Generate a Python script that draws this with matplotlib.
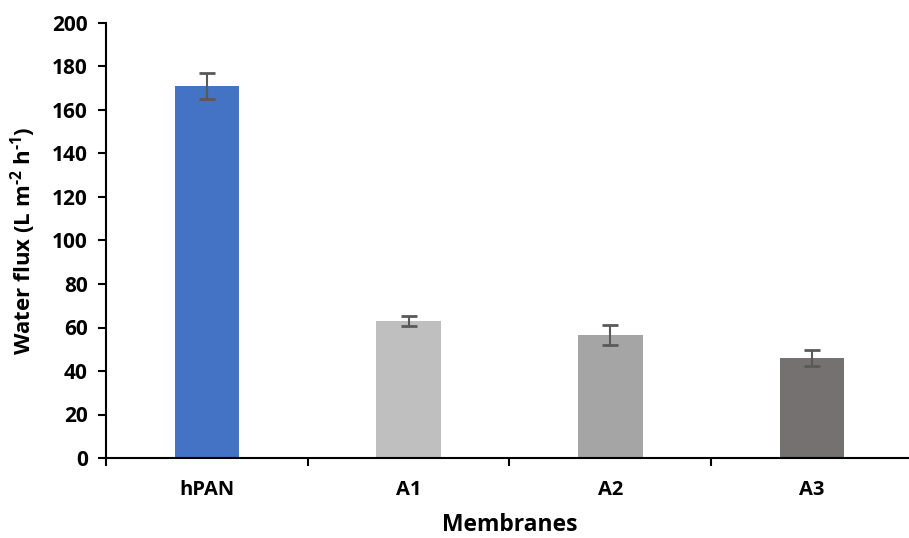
import numpy as np
import matplotlib
matplotlib.use("Agg")
import matplotlib.pyplot as plt

# data
membranes = ["hPAN", "A1", "A2", "A3"]
flux = [171, 63, 56.5, 46]
flux_err = [5.8, 2.3, 4.7, 3.7]
colors = ["#4472C4", "#BFBFBF", "#A5A5A5", "#767171"]

plt.rcParams["font.family"] = ["Open Sans", "DejaVu Sans"]
plt.rcParams["font.weight"] = "bold"
plt.rcParams["mathtext.fontset"] = "custom"
plt.rcParams["mathtext.bf"] = "Open Sans:bold"
plt.rcParams["mathtext.rm"] = "Open Sans:bold"
plt.rcParams["mathtext.default"] = "bf"

fig = plt.figure(figsize=(9.09, 5.38), dpi=100)
ax = fig.add_axes([106 / 909, 1 - 458 / 538, (913 - 106) / 909, (458 - 23) / 538])

x = np.arange(len(membranes))
ax.bar(x, flux, width=0.32, color=colors, zorder=2)
ax.errorbar(x, flux, yerr=flux_err, fmt="none", ecolor="#595959",
            elinewidth=1.5, capsize=6, capthick=2, zorder=3)

ax.set_xlim(-0.5, 3.5)
ax.set_ylim(0, 200)
ax.set_yticks(np.arange(0, 201, 20))
ax.set_xticks(np.arange(-0.5, 3.6, 1))
ax.set_xticklabels([])
ax.set_xticks(x, minor=True)
ax.set_xticklabels(membranes, minor=True, fontsize=14.5, fontweight="bold")
ax.tick_params(axis="x", which="minor", length=0, pad=16)
ax.tick_params(axis="x", which="major", length=6, width=1.5, direction="out")
ax.tick_params(axis="y", length=6, width=1.5, labelsize=15, pad=7)
for lab in ax.get_yticklabels():
    lab.set_fontweight("bold")

for s in ["top", "right"]:
    ax.spines[s].set_visible(False)
for s in ["left", "bottom"]:
    ax.spines[s].set_linewidth(1.5)

ax.set_xlabel("Membranes", fontsize=16.5, fontweight="bold", labelpad=9)
ax.set_ylabel(r"Water flux (L m$^{\text{-2}}$ h$^{\text{-1}}$)", fontsize=16,
              fontweight="bold", labelpad=10)

fig.savefig("out.png", dpi=100)
